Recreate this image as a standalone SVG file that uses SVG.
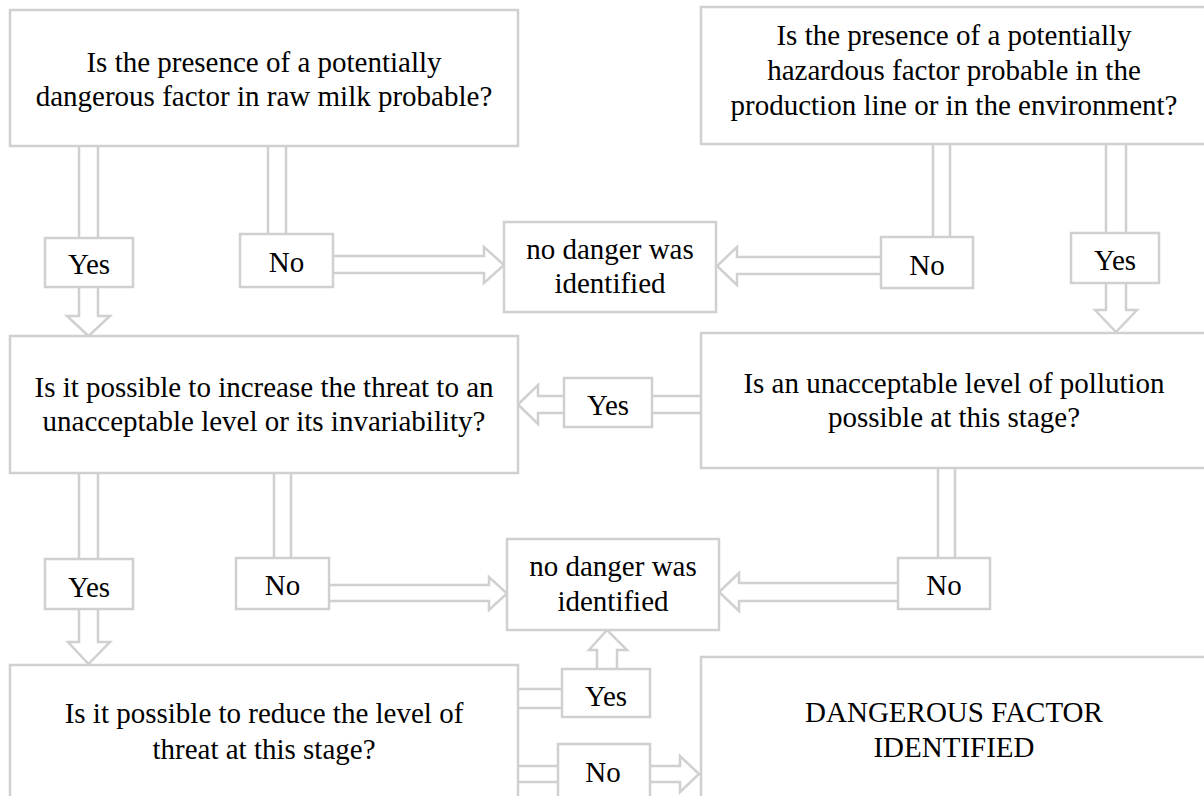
<svg xmlns="http://www.w3.org/2000/svg" width="1204" height="796" viewBox="0 0 1204 796">
<style>
.box{fill:#fff;stroke:#d0d0d0;stroke-width:2.5}
.lbl{fill:#fff;stroke:#d0d0d0;stroke-width:2.5}
.arr{fill:#fff;stroke:#d0d0d0;stroke-width:2.5;stroke-linejoin:miter}
.ln{fill:none;stroke:#d0d0d0;stroke-width:2.5}
text{font-family:"Liberation Serif","Times New Roman",serif;font-size:29px;fill:#000;text-anchor:middle}
</style>
<rect width="1204" height="796" fill="#fff"/>
<g id="connectors">
  <path class="arr" d="M79,146 V316 H67 L88.5,336 L110,316 H98 V146"/>
  <path class="ln" d="M268,146 V236 M286,146 V236"/>
  <path class="arr" d="M333,256 H484 V247 L504,265 L484,283 V273 H333"/>
  <path class="ln" d="M933,144 V238 M950,144 V238"/>
  <path class="arr" d="M881,257 H737 V247 L717,266 L737,285 V274 H881"/>
  <path class="arr" d="M1106,144 V310 H1095 L1116,332 L1137,310 H1126 V144"/>
  <path class="arr" d="M701,396 H538 V385 L518,404.5 L538,424 V413 H701"/>
  <path class="ln" d="M274,473 V559 M291,473 V559"/>
  <path class="arr" d="M329,585 H489 V577 L507,593.5 L489,610 V601 H329"/>
  <path class="ln" d="M938,468 V559 M955,468 V559"/>
  <path class="arr" d="M898,583 H739 V573 L719,592 L739,611 V601 H898"/>
  <path class="arr" d="M79,473 V642 H68 L88.5,664 L110,642 H98 V473"/>
  <path class="ln" d="M518,689 H563 M518,708 H563"/>
  <path class="arr" d="M597,670 V650 H589 L607,630 L627,650 H617 V670"/>
  <path class="ln" d="M518,766 H560 M518,782 H560"/>
  <path class="arr" d="M650,766 H680 V756 L699,774 L680,792 V782 H650"/>
  <g id="label-yes-1"><rect class="lbl" x="45" y="238" width="88" height="49"/><text x="89" y="274">Yes</text></g>
  <g id="label-no-1"><rect class="lbl" x="240" y="234" width="93" height="53"/><text x="286.5" y="272">No</text></g>
  <g id="label-no-2"><rect class="lbl" x="881" y="237" width="92" height="51"/><text x="927" y="275">No</text></g>
  <g id="label-yes-2"><rect class="lbl" x="1071" y="233" width="88" height="50"/><text x="1115" y="270">Yes</text></g>
  <g id="label-yes-3"><rect class="lbl" x="564" y="378" width="88" height="49"/><text x="608" y="415">Yes</text></g>
  <g id="label-no-3"><rect class="lbl" x="236" y="558" width="93" height="51"/><text x="282.5" y="595">No</text></g>
  <g id="label-no-4"><rect class="lbl" x="898" y="558" width="92" height="51"/><text x="944" y="595">No</text></g>
  <g id="label-yes-4"><rect class="lbl" x="45" y="559" width="88" height="50"/><text x="89" y="597">Yes</text></g>
  <g id="label-yes-5"><rect class="lbl" x="562" y="669" width="88" height="48"/><text x="606" y="706">Yes</text></g>
  <g id="label-no-5"><rect class="lbl" x="558" y="744" width="92" height="70"/><text x="603" y="782">No</text></g>
</g>
<g id="q-raw-milk">
  <rect class="box" x="10" y="10" width="508" height="136"/>
  <text x="264" y="72">Is the presence of a potentially</text>
  <text x="264" y="106">dangerous factor in raw milk probable?</text>
</g>
<g id="q-production-line">
  <rect class="box" x="701" y="7" width="520" height="137"/>
  <text x="954" y="45">Is the presence of a potentially</text>
  <text x="954" y="80">hazardous factor probable in the</text>
  <text x="954" y="115">production line or in the environment?</text>
</g>
<g id="no-danger-1">
  <rect class="box" x="504" y="222" width="212" height="90"/>
  <text x="610" y="259">no danger was</text>
  <text x="610" y="293">identified</text>
</g>
<g id="q-increase">
  <rect class="box" x="10" y="336" width="508" height="137"/>
  <text x="264" y="397">Is it possible to increase the threat to an</text>
  <text x="264" y="431">unacceptable level or its invariability?</text>
</g>
<g id="q-pollution">
  <rect class="box" x="701" y="333" width="520" height="135"/>
  <text x="954" y="393">Is an unacceptable level of pollution</text>
  <text x="954" y="427">possible at this stage?</text>
</g>
<g id="no-danger-2">
  <rect class="box" x="507" y="539" width="212" height="91"/>
  <text x="613" y="576">no danger was</text>
  <text x="613" y="611">identified</text>
</g>
<g id="q-reduce">
  <rect class="box" x="10" y="665" width="508" height="200"/>
  <text x="264" y="723">Is it possible to reduce the level of</text>
  <text x="264" y="759">threat at this stage?</text>
</g>
<g id="dangerous-factor">
  <rect class="box" x="701" y="657" width="520" height="200"/>
  <text x="954" y="722">DANGEROUS FACTOR</text>
  <text x="954" y="757">IDENTIFIED</text>
</g>
</svg>
